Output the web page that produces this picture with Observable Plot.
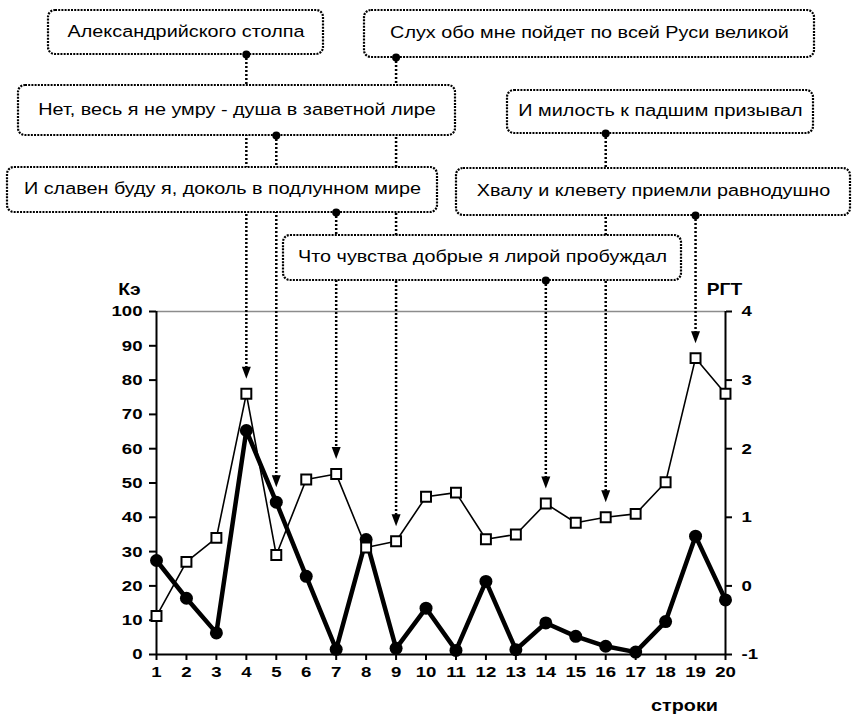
<!DOCTYPE html>
<html>
<head>
<meta charset="utf-8">
<script src="https://cdn.jsdelivr.net/npm/d3@7"></script>
<script src="https://cdn.jsdelivr.net/npm/@observablehq/plot@0.6"></script>
<style>
  html, body { margin: 0; padding: 0; background: #fff; }
</style>
</head>
<body>
<div id="chart"></div>
<script>
// ---------- DATA ----------
const lineNumbers = [1, 2, 3, 4, 5, 6, 7, 8, 9, 10, 11, 12, 13, 14, 15, 16, 17, 18, 19, 20];
// Кэ (left axis, 0..100) — thick line with filled circles
const keValues = [27.4, 16.4, 6.3, 65.3, 44.4, 22.8, 1.5, 33.5, 1.8, 13.5, 1.2, 21.3, 1.4, 9.2, 5.3, 2.4, 0.7, 9.6, 34.5, 15.9];
// РГТ (right axis, -1..4) — thin line with open squares
const rgtValues = [-0.44, 0.35, 0.70, 2.80, 0.45, 1.55, 1.63, 0.56, 0.65, 1.30, 1.36, 0.68, 0.75, 1.20, 0.92, 1.00, 1.05, 1.51, 3.32, 2.80];
const keTicks = [0, 10, 20, 30, 40, 50, 60, 70, 80, 90, 100];
const rgtTicks = [-1, 0, 1, 2, 3, 4];
const xTicks = lineNumbers;
const verses = [
  "Александрийского столпа",
  "Слух обо мне пойдет по всей Руси великой",
  "Нет, весь я не умру - душа в заветной лире",
  "И милость к падшим призывал",
  "И славен буду я, доколь в подлунном мире",
  "Хвалу и клевету приемли равнодушно",
  "Что чувства добрые я лирой пробуждал"
];
const verseLine = [4, 9, 5, 16, 7, 19, 14];
const axisLabels = {left: "Кэ", right: "РГТ", x: "строки"};

// ---------- LAYOUT (annotation boxes, in pixels) ----------
const W = 852, H = 715;
const mL = 156, mR = 127, mT = 311, mB = 61;
const boxLayout = [
  {left: 48,  right: 323, top: 10,  bottom: 54},
  {left: 364, right: 814, top: 10,  bottom: 57},
  {left: 18,  right: 455, top: 85,  bottom: 135},
  {left: 507, right: 813, top: 90,  bottom: 133},
  {left: 7,   right: 437, top: 167, bottom: 212},
  {left: 456, right: 850, top: 168, bottom: 215},
  {left: 283, right: 681, top: 235, bottom: 280}
];
const STRETCH = 1.2;

const xs = Plot.scale({x: {domain: [1, 20], range: [mL, W - mR]}});
const ys = Plot.scale({y: {domain: [0, 100], range: [H - mB, mT]}});
const rgtToKe = r => (r + 1) * 20;

const rows = lineNumbers.map((l, i) => ({line: l, ke: keValues[i], rgt: rgtToKe(rgtValues[i])}));
const notes = verses.map((t, i) => {
  const b = boxLayout[i];
  const r = rows[verseLine[i] - 1];
  return {
    text: t,
    line: verseLine[i],
    x1: xs.invert(b.left), x2: xs.invert(b.right),
    y1: ys.invert(b.top), y2: ys.invert(b.bottom),
    cx: xs.invert((b.left + b.right) / 2),
    cy: ys.invert((b.top + b.bottom) / 2),
    target: Math.max(r.ke, r.rgt)
  };
});

const arrowHead = {
  draw(ctx) {
    ctx.moveTo(-4.5, -12);
    ctx.lineTo(4.5, -12);
    ctx.lineTo(0, 0);
    ctx.closePath();
  }
};

const chart = Plot.plot({
  width: W,
  height: H,
  marginLeft: mL,
  marginRight: mR,
  marginTop: mT,
  marginBottom: mB,
  style: {fontFamily: "'Liberation Sans', Arial, sans-serif", background: "#fff", color: "#000", overflow: "visible"},
  x: {domain: [1, 20], axis: null},
  y: {domain: [0, 100], axis: null},
  marks: [
    Plot.ruleY([100], {stroke: "#8c8c8c", strokeWidth: 1.5}),
    // connectors from verse boxes to lines
    Plot.ruleX(notes, {x: "line", y1: "y2", y2: "target", stroke: "#000", strokeWidth: 2.5, strokeDasharray: "2,2", insetBottom: 22}),
    Plot.dot(notes, {x: "line", y: "target", symbol: arrowHead, fill: "#000", stroke: "none", dy: -15}),
    // verse boxes
    Plot.rect(notes, {x1: "x1", x2: "x2", y1: "y1", y2: "y2", fill: "#fff", stroke: "#000", strokeWidth: 2.2, strokeDasharray: "2,1.2", rx: 7}),
    Plot.dot(notes, {x: "line", y: "y2", r: 4, fill: "#000", stroke: "none"}),
    Plot.text(notes, {x: "cx", y: "cy", text: "text", fontSize: 16.5, fill: "#000", dy: -1}),
    // axes
    Plot.axisY(keTicks, {anchor: "left", tickSize: 7, tickPadding: 7, strokeWidth: 2, fontSize: 15.5, fontWeight: "bold", label: null, tickFormat: d => String(d)}),
    Plot.axisY(rgtTicks.map(rgtToKe), {anchor: "right", tickSize: 6, tickPadding: 10, strokeWidth: 2, fontSize: 15.5, fontWeight: "bold", label: null, tickFormat: d => String(Math.round(d / 20 - 1))}),
    Plot.axisX(xTicks, {anchor: "bottom", tickSize: 6, tickPadding: 5, strokeWidth: 2, fontSize: 15.5, fontWeight: "bold", label: null, tickFormat: d => String(d)}),
    Plot.ruleX([1, 20], {stroke: "#000", strokeWidth: 2}),
    Plot.ruleY([0], {stroke: "#000", strokeWidth: 2}),
    // series
    Plot.line(rows, {x: "line", y: "rgt", stroke: "#000", strokeWidth: 1.6}),
    Plot.line(rows, {x: "line", y: "ke", stroke: "#000", strokeWidth: 4.5}),
    Plot.dot(rows, {x: "line", y: "ke", r: 6.5, fill: "#000", stroke: "none"}),
    Plot.dot(rows, {x: "line", y: "rgt", symbol: "square", r: 5.6, fill: "#fff", stroke: "#000", strokeWidth: 2}),
    // axis titles
    Plot.text([axisLabels.left], {text: d => d, frameAnchor: "top-left", textAnchor: "middle", lineAnchor: "middle", dx: -27, dy: -22, fontSize: 16, fontWeight: "bold"}),
    Plot.text([axisLabels.right], {text: d => d, frameAnchor: "top-right", textAnchor: "middle", lineAnchor: "middle", dx: -1, dy: -22, fontSize: 16, fontWeight: "bold"}),
    Plot.text([axisLabels.x], {text: d => d, frameAnchor: "bottom-right", textAnchor: "middle", lineAnchor: "middle", dx: -41, dy: 51, fontSize: 16.5, fontWeight: "bold"})
  ]
});

// horizontal stretch of all text, as in the reference
chart.querySelectorAll("text").forEach(t => {
  const tr = t.getAttribute("transform") || "";
  t.setAttribute("transform", (tr + ` scale(${STRETCH},1)`).trim());
});

document.getElementById("chart").appendChild(chart);
</script>
</body>
</html>
